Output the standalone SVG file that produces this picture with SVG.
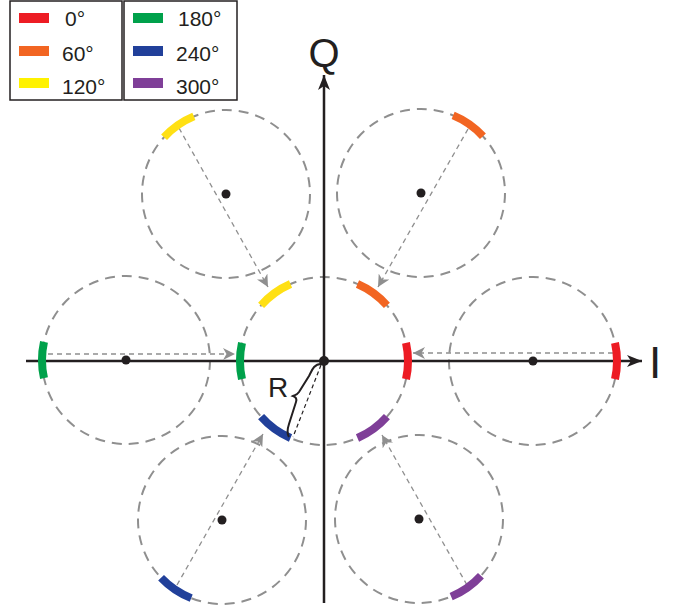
<svg xmlns="http://www.w3.org/2000/svg" width="673" height="612" viewBox="0 0 673 612">
<defs>
<style>
.dc{fill:none;stroke:#8f8f8f;stroke-width:2;stroke-dasharray:10 7}
.da{fill:none;stroke:#8f8f8f;stroke-width:1.3;stroke-dasharray:5 4;marker-end:url(#ga)}
.arc{fill:none;stroke-width:8}
.dot{fill:#231f20}
.ax{stroke:#231f20;stroke-width:2.5;fill:none}
.lt{font-family:"Liberation Sans",Arial,sans-serif;font-size:21px;fill:#231f20}
.big{font-family:"Liberation Sans",Arial,sans-serif;fill:#231f20}
.box{fill:#fff;stroke:#231f20;stroke-width:1.5}
</style>
<marker id="ga" markerUnits="userSpaceOnUse" markerWidth="14" markerHeight="12" viewBox="0 0 14 12" refX="12" refY="6" orient="auto">
<path d="M0,0 L12,6 L0,12 L3.5,6 z" fill="#8f8f8f"/>
</marker>
<marker id="ka" markerUnits="userSpaceOnUse" markerWidth="16" markerHeight="12" viewBox="0 0 16 12" refX="15" refY="6" orient="auto">
<path d="M0,0 L15,6 L0,12 L4,6 z" fill="#231f20"/>
</marker>
</defs>
<rect width="673" height="612" fill="#fff"/>

<g id="legend">
<rect class="box" x="10" y="1" width="112" height="99"/>
<rect class="box" x="124" y="1" width="113" height="99"/>
<rect x="19" y="13" width="30" height="10" fill="#ed1c24"/>
<rect x="19" y="46" width="30" height="10" fill="#f26522"/>
<rect x="19" y="78" width="30" height="10" fill="#fff200"/>
<rect x="133" y="13" width="30" height="10" fill="#00a14b"/>
<rect x="133" y="46" width="30" height="10" fill="#21409a"/>
<rect x="133" y="78" width="30" height="10" fill="#7f3f98"/>
<text class="lt" x="65" y="26">0°</text>
<text class="lt" x="62" y="61">60°</text>
<text class="lt" x="62" y="94">120°</text>
<text class="lt" x="178" y="26">180°</text>
<text class="lt" x="176" y="61">240°</text>
<text class="lt" x="176" y="94">300°</text>
</g>

<g id="circle-center">
<circle class="dc" cx="324" cy="361" r="84"/>
</g>
<g id="circle-right">
<circle class="dc" cx="533" cy="361" r="84"/>
<circle class="dot" cx="533" cy="361" r="4.5"/>
</g>
<g id="circle-topright">
<circle class="dc" cx="421" cy="193" r="84"/>
<circle class="dot" cx="421" cy="193" r="4.5"/>
</g>
<g id="circle-topleft">
<circle class="dc" cx="226" cy="194" r="84"/>
<circle class="dot" cx="226" cy="194" r="4.5"/>
</g>
<g id="circle-left">
<circle class="dc" cx="126" cy="360" r="84"/>
<circle class="dot" cx="126" cy="360" r="4.5"/>
</g>
<g id="circle-bottomleft">
<circle class="dc" cx="222" cy="520" r="84"/>
<circle class="dot" cx="222" cy="520" r="4.5"/>
</g>
<g id="circle-bottomright">
<circle class="dc" cx="419" cy="519" r="84"/>
<circle class="dot" cx="419" cy="519" r="4.5"/>
</g>

<g id="axes">
<line class="ax" x1="26" y1="361" x2="642" y2="361" marker-end="url(#ka)"/>
<line class="ax" x1="324" y1="603" x2="324" y2="75" marker-end="url(#ka)"/>
<text class="big" x="324" y="67" font-size="40" text-anchor="middle">Q</text>
<text class="big" x="649" y="378" font-size="44">I</text>
</g>

<g id="connectors">
<line class="da" x1="468" y1="129" x2="378" y2="287"/>
<line class="da" x1="179" y1="128" x2="268" y2="287"/>
<line class="da" x1="48" y1="354" x2="235" y2="354"/>
<line class="da" x1="613" y1="353" x2="413" y2="353"/>
<line class="da" x1="177" y1="585" x2="263" y2="434"/>
<line class="da" x1="467" y1="585" x2="382" y2="435"/>
</g>

<g id="arcs">
<path class="arc" stroke="#ed1c24" d="M406.01,379.18 A84,84 0 0 0 406.01,342.82"/>
<path class="arc" stroke="#f26522" d="M386.91,305.34 A84,84 0 0 0 357.49,283.97"/>
<path class="arc" stroke="#ffe014" d="M290.51,283.97 A84,84 0 0 0 261.09,305.34"/>
<path class="arc" stroke="#00a14b" d="M241.99,342.82 A84,84 0 0 0 241.99,379.18"/>
<path class="arc" stroke="#21409a" d="M261.09,416.66 A84,84 0 0 0 290.51,438.03"/>
<path class="arc" stroke="#7f3f98" d="M357.49,438.03 A84,84 0 0 0 386.91,416.66"/>
<path class="arc" stroke="#ed1c24" d="M615.01,379.18 A84,84 0 0 0 615.01,342.82"/>
<path class="arc" stroke="#f26522" d="M482.93,136.25 A84,84 0 0 0 453.15,115.39"/>
<path class="arc" stroke="#ffe014" d="M193.85,116.39 A84,84 0 0 0 164.07,137.25"/>
<path class="arc" stroke="#00a14b" d="M43.99,341.82 A84,84 0 0 0 43.99,378.18"/>
<path class="arc" stroke="#21409a" d="M161.07,577.83 A84,84 0 0 0 191.21,598.15"/>
<path class="arc" stroke="#7f3f98" d="M451.15,596.61 A84,84 0 0 0 480.93,575.75"/>
</g>

<g id="radius">
<line x1="321" y1="365" x2="293" y2="437" stroke="#231f20" stroke-width="1.2" stroke-dasharray="4 3"/>
<path d="M321,364 C314,364 312,370 309,376 L299,392 C297,395 295,395 293,396 C296,397 297,399 296,402 L289,424 C287,430 287,434 289,437" fill="none" stroke="#231f20" stroke-width="2"/>
<text class="big" x="268" y="397" font-size="28">R</text>
<circle class="dot" cx="324" cy="361" r="5"/>
</g>
</svg>
